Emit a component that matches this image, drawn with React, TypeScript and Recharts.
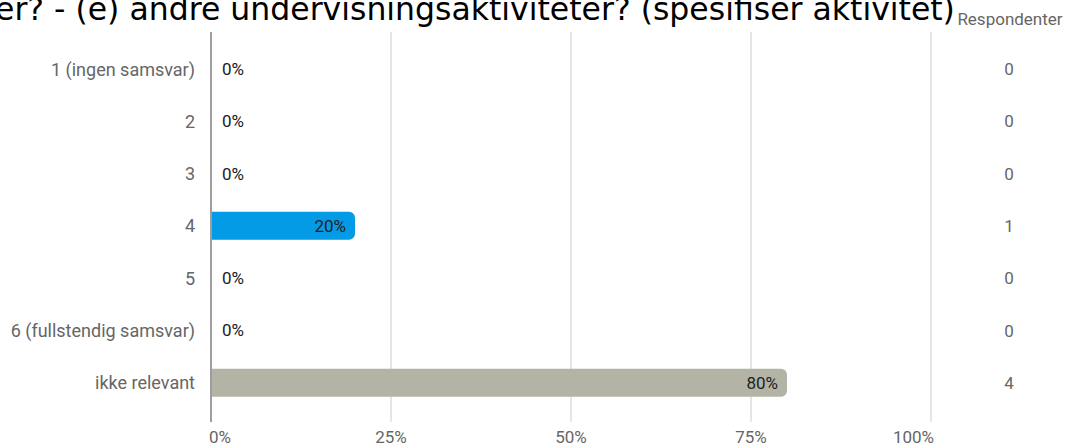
import { BarChart, Bar, XAxis, YAxis, CartesianGrid, Cell, LabelList } from 'recharts';

const categories = ['1 (ingen samsvar)', '2', '3', '4', '5', '6 (fullstendig samsvar)', 'ikke relevant'];
const percents = [0, 0, 0, 20, 0, 0, 80];
const respondents = [0, 0, 0, 1, 0, 0, 4];
const xTicks = [0, 25, 50, 75, 100];

const TITLE = 'er? - (e) andre undervisningsaktiviteter? (spesifiser aktivitet)';
const FONT = 'Roboto, "Noto Sans", sans-serif';
const BLUE = '#039be5';
const GREY = '#b3b4a6';

const data = categories.map((name, i) => ({ name, pct: percents[i], count: respondents[i] }));

const XTick = ({ x, y, payload, index }: any) => {
  const last = index === xTicks.length - 1;
  const anchor = index === 0 ? 'start' : last ? 'end' : 'middle';
  const dx = index === 0 ? -2 : last ? 3 : 0;
  return (
    <text x={x + dx} y={y} dy={13} textAnchor={anchor} fill="#666" style={{ fontSize: 17, fontFamily: FONT }}>
      {payload.value}%
    </text>
  );
};

const CountTick = ({ x, y, index }: any) => (
  <text x={x + 70} y={y} dy="0.355em" textAnchor="middle" fill="#666" style={{ fontSize: 17, fontFamily: FONT }}>
    {respondents[index]}
  </text>
);

// zero bars get a 1px stub (hidden under the axis line) so they still carry a label
const ValueLabel = ({ x, y, width, height, value }: any) => {
  const zero = !value;
  return (
    <text
      x={zero ? x + 11 : x + width - 9}
      y={y + height / 2}
      dy="0.355em"
      textAnchor={zero ? 'start' : 'end'}
      fill="#212121"
      style={{ fontSize: 17, fontFamily: FONT }}
    >
      {value}%
    </text>
  );
};

export default function App() {
  return (
    <div style={{ position: 'absolute', left: 0, top: 0, width: 1067, height: 448, background: '#fff', overflow: 'hidden' }}>
      <BarChart
        width={1067}
        height={448}
        data={data}
        layout="vertical"
        margin={{ top: 32, right: 0, left: 0, bottom: 0 }}
        barSize={28}
      >
        <CartesianGrid yAxisId="left" horizontal={false} stroke="#cccccc" />
        <XAxis
          type="number"
          domain={[0, 100]}
          ticks={xTicks}
          height={26}
          axisLine={false}
          tickLine={false}
          tick={<XTick />}
        />
        <YAxis
          yAxisId="left"
          type="category"
          dataKey="name"
          width={211}
          padding={{ top: 11, bottom: 13 }}
          axisLine={{ stroke: '#9e9e9e', strokeWidth: 2 }}
          tickLine={false}
          tickMargin={10}
          tick={{ fill: '#666', fontSize: 18, fontFamily: FONT }}
          interval={0}
        />
        <YAxis
          yAxisId="right"
          orientation="right"
          type="category"
          dataKey="name"
          width={136}
          padding={{ top: 11, bottom: 13 }}
          axisLine={false}
          tickLine={false}
          tick={<CountTick />}
          interval={0}
        />
        <Bar yAxisId="left" dataKey="pct" radius={[0, 6, 6, 0]} minPointSize={1} isAnimationActive={false}>
          {data.map((d) => (
            <Cell key={d.name} fill={d.name === 'ikke relevant' ? GREY : BLUE} />
          ))}
          <LabelList dataKey="pct" content={<ValueLabel />} />
        </Bar>
      </BarChart>
      <svg width={1067} height={448} style={{ position: 'absolute', left: 0, top: 0, pointerEvents: 'none' }}>
        <text x={-5} y={20} fill="#000" style={{ fontSize: 31.5, fontFamily: '"DejaVu Sans", Verdana, sans-serif' }}>
          {TITLE}
        </text>
        <text x={1010} y={25} textAnchor="middle" fill="#666" style={{ fontSize: 17, fontFamily: FONT }}>
          Respondenter
        </text>
      </svg>
    </div>
  );
}
